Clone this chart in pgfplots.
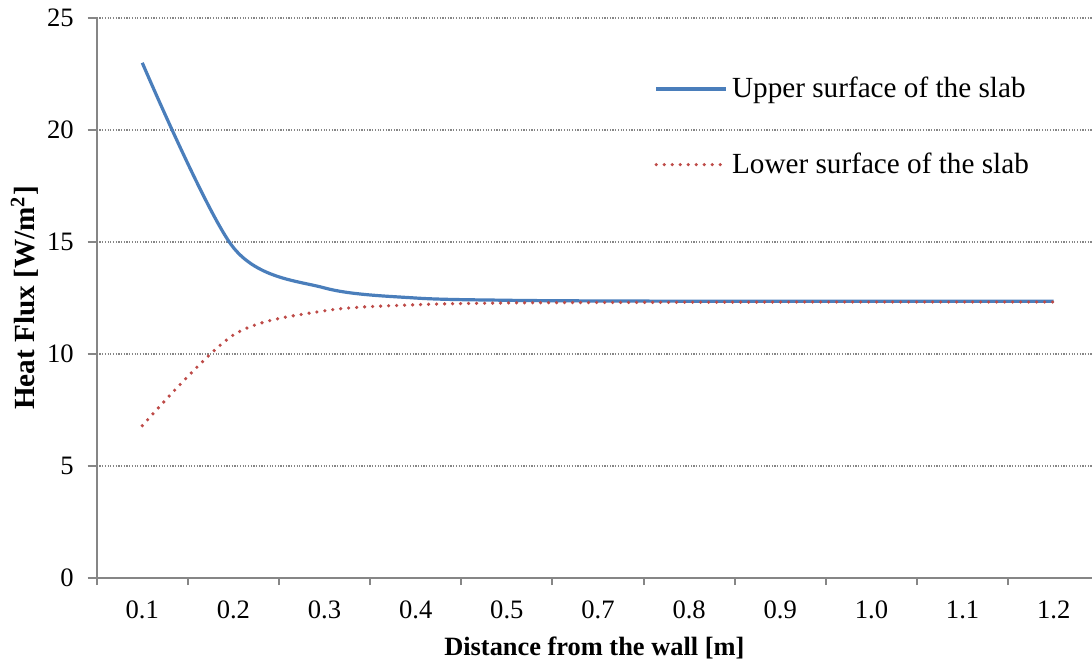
\documentclass[border=0pt]{standalone}
\usepackage{pgfplots}
\pgfplotsset{compat=1.18}
\usepackage{fontspec}
\setmainfont{Liberation Serif}
\definecolor{upc}{RGB}{74,126,187}
\definecolor{loc}{RGB}{190,75,72}
\definecolor{axc}{RGB}{134,134,134}
\begin{document}
\begin{tikzpicture}
\begin{axis}[
  name=ax,
  scale only axis,
  width=497.6pt, height=280pt,
  xmin=-0.5, xmax=10.42,
  ymin=0, ymax=25,
  ytick={0,5,10,15,20,25},
  xtick={0,...,10},
  xticklabels={0.1,0.2,0.3,0.4,0.5,0.7,0.8,0.9,1.0,1.1,1.2},
  minor xtick={-0.5,0.5,1.5,2.5,3.5,4.5,5.5,6.5,7.5,8.5,9.5},
  axis x line*=bottom, axis y line*=left,
  axis line style={draw=axc, line width=1pt},
  tick align=outside,
  major x tick style={draw=none},
  minor x tick style={draw=axc, line width=1pt},
  minor tick length=3.5pt,
  major y tick style={draw=axc, line width=1pt},
  major tick length=4.5pt,
  ymajorgrids,
  major grid style={draw=axc, line width=0.6pt, dash pattern=on 0.6pt off 0.75pt},
  /pgf/number format/assume math mode=true,
  ticklabel style={font=\fontsize{13.3}{16}\selectfont},
  yticklabel style={xshift=-3.5pt},
  xticklabel style={yshift=-3.5pt},
  xlabel={\textbf{Distance from the wall [m]}},
  ylabel={\textbf{Heat Flux [W/m\textsuperscript{2}]}},
  xlabel style={font=\fontsize{13.2}{16}\selectfont, at={(axis description cs:0.5,0)}, anchor=center, yshift=-35pt},
  ylabel style={font=\fontsize{14.6}{18}\selectfont, at={(axis description cs:0,0.5)}, anchor=center, yshift=36pt},
  legend style={draw=none, fill=none, at={(rel axis cs:0.56,0.902)}, anchor=north west,
    font=\fontsize{14.6}{17}\selectfont, row sep=22pt, inner sep=0pt,
    cells={anchor=west}},
  legend cell align=left,
  legend image code/.code={\draw[#1] (0pt,0pt) -- (35pt,0pt);},
]
\addplot[color=upc, line width=1.6pt, smooth, tension=0.5] coordinates {
 (0,23.0) (1,14.75) (2,12.95) (3,12.5) (4,12.4) (5,12.37) (6,12.36) (7,12.36) (8,12.36) (9,12.36) (10,12.36)
};
\addlegendentry{Upper surface of the slab}
\addplot[color=loc, line width=1.8pt, line cap=round, dash pattern=on 0pt off 4pt, smooth, tension=0.5] coordinates {
 (0,6.8) (1,10.85) (2,11.93) (3,12.2) (4,12.28) (5,12.3) (6,12.31) (7,12.32) (8,12.32) (9,12.32) (10,12.32)
};
\addlegendentry{Lower surface of the slab}
\end{axis}
\pgfresetboundingbox
\path[use as bounding box] ([xshift=-48.35pt,yshift=-43pt]ax.south west) rectangle ([yshift=9pt]ax.north east);
\end{tikzpicture}
\end{document}
